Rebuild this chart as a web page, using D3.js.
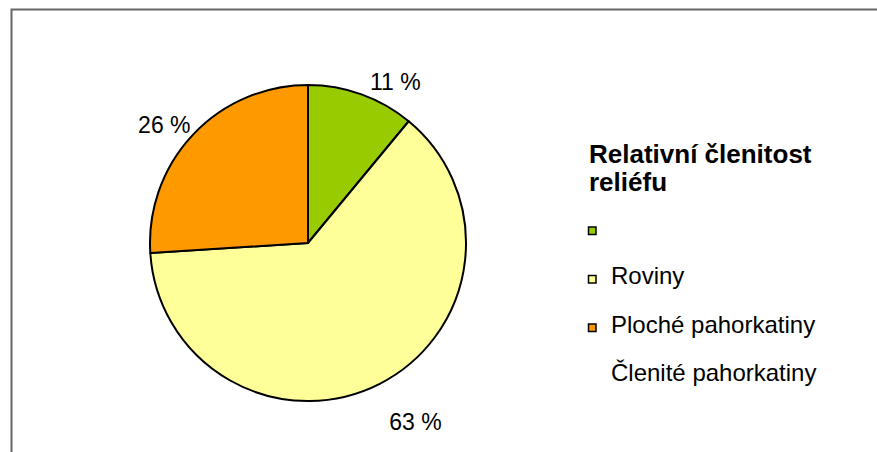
<!DOCTYPE html>
<html>
<head>
<meta charset="utf-8">
<script src="https://cdn.jsdelivr.net/npm/d3@7"></script>
<style>
  html, body { margin: 0; padding: 0; background: #fff; }
  svg { display: block; font-family: "Liberation Sans", Arial, sans-serif; }
</style>
</head>
<body>
<svg id="chart" width="877" height="452"></svg>
<script>
// ---- data ----
const sliceNames = ["", "Roviny", "Ploché pahorkatiny"];
const sliceValues = [11, 63, 26];
const sliceColors = ["#99CC00", "#FFFF99", "#FF9900"];
const legendTitle = ["Relativní členitost", "reliéfu"];
const legendLabels = ["", "Roviny", "Ploché pahorkatiny", "Členité pahorkatiny"];

// ---- layout ----
const svg = d3.select("#chart");
const cx = 308, cy = 243, r = 158;

// frame
svg.append("rect")
  .attr("x", 11.5).attr("y", 9.5)
  .attr("width", 900).attr("height", 500)
  .attr("fill", "none").attr("stroke", "#666").attr("stroke-width", 2);

const data = sliceValues.map((v, i) => ({ name: sliceNames[i], value: v, color: sliceColors[i] }));
const pie = d3.pie().value(d => d.value).sort(null);
const arc = d3.arc().innerRadius(0).outerRadius(r);
const arcs = pie(data);

const g = svg.append("g").attr("transform", `translate(${cx},${cy})`);
g.selectAll("path.slice")
  .data(arcs)
  .join("path")
  .attr("class", "slice")
  .attr("d", arc)
  .attr("fill", d => d.data.color)
  .attr("stroke", "#000")
  .attr("stroke-width", 2)
  .attr("stroke-linejoin", "round");

// data labels
const total = d3.sum(sliceValues);
const labelR = r + 10;
g.selectAll("text.lbl")
  .data(arcs)
  .join("text")
  .attr("class", "lbl")
  .each(function(d) {
    const a = (d.startAngle + d.endAngle) / 2;
    const s = Math.sin(a), c = Math.cos(a);
    const px = labelR * s, py = -labelR * c;
    d3.select(this)
      .attr("x", px + 5)
      .attr("y", c > 0 ? py + 5 : py + 37)
      .attr("text-anchor", s > 0 ? "start" : "end");
  })
  .attr("font-size", 23)
  .attr("fill", "#000")
  .text(d => Math.round(d.data.value / total * 100) + " %");

// legend
const lg = svg.append("g");
lg.append("text")
  .attr("x", 589).attr("y", 163)
  .attr("font-size", 26).attr("font-weight", "bold").attr("fill", "#000")
  .selectAll("tspan")
  .data(legendTitle)
  .join("tspan")
  .attr("x", 589)
  .attr("dy", (d, i) => i === 0 ? 0 : 28)
  .text(d => d);

const rowY = d3.scaleLinear().domain([0, 1]).range([230.5, 279]);
legendLabels.forEach((lab, i) => {
  const y = rowY(i);
  if (i < sliceColors.length) {
    lg.append("rect")
      .attr("x", 588.5).attr("y", y - 3.5)
      .attr("width", 7.5).attr("height", 7.5)
      .attr("fill", sliceColors[i])
      .attr("stroke", "#000").attr("stroke-width", 1.5);
  }
  lg.append("text")
    .attr("x", 611).attr("y", y + 5)
    .attr("font-size", 24).attr("fill", "#000")
    .text(lab);
});
</script>
</body>
</html>
